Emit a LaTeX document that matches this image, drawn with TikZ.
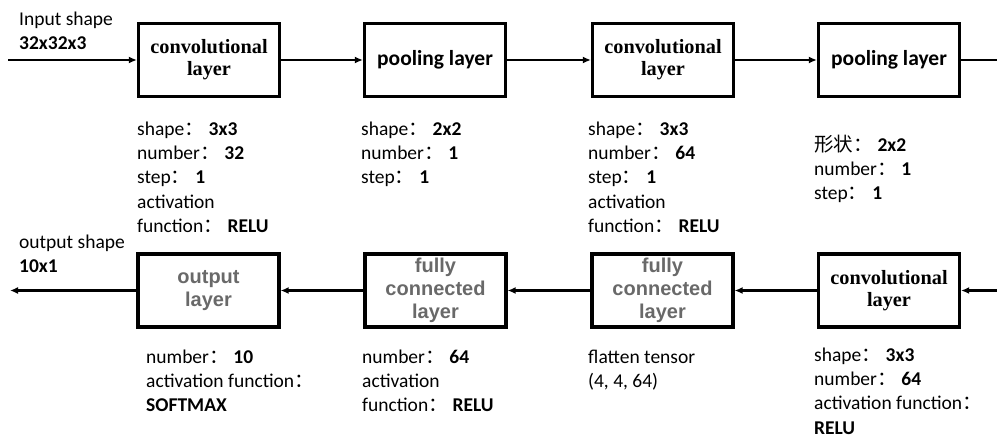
\documentclass[tikz,border=0pt]{standalone}
\usepackage{fontspec}
\setmainfont{Carlito}
\newfontfamily\convfam{Liberation Serif}
\newfontfamily\grayfam{Liberation Sans}
\newfontfamily\cjk{Noto Sans CJK SC}
\usetikzlibrary{arrows.meta}
\definecolor{boxgray}{RGB}{105,105,105}
% full-width colon from the CJK face; \colonval leaves room before a value
\newcommand\colonfw{{\cjk ：}}
\newcommand\colonval{{\cjk ：}\hspace{0.25em}}
\tikzset{
  blk/.style={draw, line width=3.2pt, minimum width=141pt, minimum height=73pt,
              inner sep=0pt, align=center},
  convtxt/.style={font=\convfam\bfseries\fontsize{20.3}{22}\selectfont},
  pooltxt/.style={font=\bfseries\fontsize{21.5}{24}\selectfont},
  graytxt/.style={text=boxgray, font=\grayfam\bfseries\fontsize{20}{23}\selectfont},
  link/.style={line width=2.2pt, -{Latex[length=8pt,width=7pt]}},
  plain/.style={line width=2.2pt},
  note/.style={anchor=north west, inner sep=0pt, align=left,
               font=\fontsize{19.5}{24.3}\selectfont},
}
\newcommand\topstrut{\rule{0pt}{17pt}}
\begin{document}
\begin{tikzpicture}[x=1pt, y=-1pt]
\useasboundingbox (0,0) rectangle (997,439);

% upper row of layers
\node[blk, convtxt] (conv1) at (209,60) {convolutional\\layer};
\node[blk, pooltxt] (pool1) at (435,60) {pooling layer};
\node[blk, convtxt] (conv2) at (663,60) {convolutional\\layer};
\node[blk, pooltxt] (pool2) at (889,60) {pooling layer};

% lower row of layers
\node[blk, graytxt] (outl) at (208.5,290.5) {output\\layer};
\node[blk, graytxt] (fc1) at (435.5,290.5) {fully\\connected\\layer};
\node[blk, graytxt] (fc2) at (662.5,290.5) {fully\\connected\\layer};
\node[blk, convtxt] (conv3) at (889,290.5) {convolutional\\layer};

% free ends of the flow
\coordinate (inL) at (8,60);
\coordinate (topR) at (997,60);
\coordinate (botR) at (997,290.5);
\coordinate (outL) at (10,290.5);

% connectors
\draw[link] (inL) -- (conv1.west);
\draw[link] (conv1.east) -- (pool1.west);
\draw[link] (pool1.east) -- (conv2.west);
\draw[link] (conv2.east) -- (pool2.west);
\draw[plain] (pool2.east) -- (topR);
\draw[link] (botR) -- (conv3.east);
\draw[link] (conv3.west) -- (fc2.east);
\draw[link] (fc2.west) -- (fc1.east);
\draw[link] (fc1.west) -- (outl.east);
\draw[link] (outl.west) -- (outL);

% input / output shapes
\node[note] (inshape) at (19,8) {\topstrut Input shape\\\textbf{32x32x3}};
\node[note] (outshape) at (19,231) {\topstrut output shape\\\textbf{10x1}};

% parameters of each layer
\node[note] (p1) at (137,118) {\topstrut shape\colonval\textbf{3x3}\\number\colonval\textbf{32}\\step\colonval\textbf{1}\\activation\\function\colonval\textbf{RELU}};
\node[note] (p2) at (361,118) {\topstrut shape\colonval\textbf{2x2}\\number\colonval\textbf{1}\\step\colonval\textbf{1}};
\node[note] (p3) at (588,118) {\topstrut shape\colonval\textbf{3x3}\\number\colonval\textbf{64}\\step\colonval\textbf{1}\\activation\\function\colonval\textbf{RELU}};
\node[note] (p4) at (814,134) {\topstrut {\cjk 形状}\colonval\textbf{2x2}\\number\colonval\textbf{1}\\step\colonval\textbf{1}};

\node[note] (p5) at (146,346) {\topstrut number\colonval\textbf{10}\\activation function\colonfw\\\textbf{SOFTMAX}};
\node[note] (p6) at (362,346) {\topstrut number\colonval\textbf{64}\\activation\\function\colonval\textbf{RELU}};
\node[note] (p7) at (588,346) {\topstrut flatten tensor\\(4, 4, 64)};
\node[note] (p8) at (814,344) {\topstrut shape\colonval\textbf{3x3}\\number\colonval\textbf{64}\\activation function\colonfw\\\textbf{RELU}};
\end{tikzpicture}
\end{document}
